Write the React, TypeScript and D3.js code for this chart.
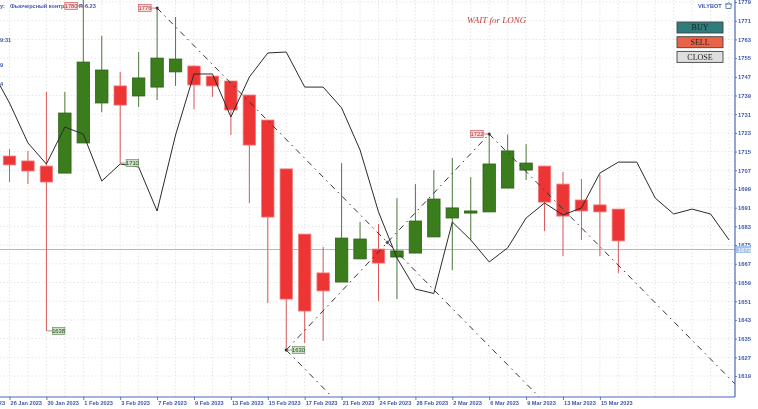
import React, { useEffect, useRef } from 'react';
import * as d3 from 'd3';

const axisDates = [
  '24 Jan 2023', '25 Jan 2023', '26 Jan 2023', '27 Jan 2023', '30 Jan 2023', '31 Jan 2023',
  '1 Feb 2023', '2 Feb 2023', '3 Feb 2023', '6 Feb 2023', '7 Feb 2023', '8 Feb 2023',
  '9 Feb 2023', '10 Feb 2023', '13 Feb 2023', '14 Feb 2023', '15 Feb 2023', '16 Feb 2023',
  '17 Feb 2023', '20 Feb 2023', '21 Feb 2023', '22 Feb 2023', '24 Feb 2023', '27 Feb 2023',
  '28 Feb 2023', '1 Mar 2023', '2 Mar 2023', '3 Mar 2023', '6 Mar 2023', '7 Mar 2023',
  '9 Mar 2023', '10 Mar 2023', '13 Mar 2023', '14 Mar 2023', '15 Mar 2023', '16 Mar 2023',
  '17 Mar 2023', '20 Mar 2023', '21 Mar 2023', '22 Mar 2023', '23 Mar 2023', '24 Mar 2023',
  '27 Mar 2023',
];
const candleDates = axisDates.slice(2, 36);
const lineDates = axisDates.slice(1, 42);
const labelledDates = axisDates.slice(0, 35).filter((_, i) => i % 2 === 0);

const opens = [
  1713.1, 1711.0, 1708.8, 1705.8, 1718.7, 1735.8, 1743.1, 1738.8, 1742.6, 1749.1, 1751.6, 1747.3,
  1745.2, 1739.2, 1728.5, 1707.6, 1679.7, 1663.1, 1659.2, 1669.1, 1673.3, 1669.9, 1671.6, 1678.5,
  1686.6, 1688.7, 1689.2, 1699.4, 1707.1, 1708.8, 1701.1, 1694.3, 1692.2, 1690.4,
];
const highs = [
  1716.1, 1715.3, 1740.5, 1740.5, 1780.0, 1764.5, 1749.1, 1757.6, 1776.4, 1772.6, 1752.0, 1747.3,
  1745.2, 1739.2, 1728.5, 1707.6, 1679.7, 1674.2, 1710.1, 1684.9, 1684.0, 1695.1, 1701.1, 1707.1,
  1712.3, 1704.1, 1722.5, 1722.3, 1718.2, 1708.8, 1706.3, 1703.3, 1705.0, 1690.4,
];
const lows = [
  1702.0, 1701.1, 1638.3, 1705.8, 1718.7, 1731.9, 1710.1, 1734.1, 1737.1, 1743.1, 1733.2, 1738.4,
  1722.1, 1693.0, 1650.2, 1630.1, 1633.1, 1634.0, 1659.2, 1669.1, 1651.1, 1651.9, 1671.6, 1678.5,
  1664.3, 1677.2, 1689.2, 1699.4, 1702.8, 1681.0, 1670.3, 1677.2, 1670.3, 1663.1,
];
const closes = [
  1709.3, 1706.7, 1702.0, 1731.5, 1753.3, 1749.9, 1734.9, 1746.5, 1755.0, 1754.6, 1743.5, 1743.1,
  1732.8, 1717.8, 1687.0, 1651.9, 1646.8, 1655.4, 1678.0, 1677.6, 1667.3, 1672.5, 1685.3, 1694.7,
  1690.9, 1689.6, 1709.7, 1715.3, 1710.1, 1693.4, 1687.4, 1689.6, 1689.2, 1676.8,
];
const lineValues = [
  1750.3, 1735.8, 1718.7, 1709.7, 1725.5, 1722.5, 1702.4, 1709.7, 1708.4, 1689.6, 1722.1, 1748.2,
  1748.2, 1729.8, 1746.9, 1757.2, 1757.6, 1742.6, 1742.6, 1733.7, 1715.7, 1689.2, 1669.5, 1656.2,
  1654.3, 1684.9, 1677.2, 1667.8, 1673.8, 1686.6, 1693.0, 1687.9, 1690.9, 1705.8, 1710.5, 1710.5,
  1695.1, 1688.3, 1690.4, 1688.3, 1677.2,
];
const priceTicks = [
  1779, 1771, 1763, 1755, 1747, 1739, 1731, 1723, 1715, 1707, 1699, 1691, 1683, 1675, 1667, 1659,
  1651, 1643, 1635, 1627, 1619,
];
const currentPrice = 1673.1;

type TrendLine = [string, number, string, number];
const trendLines: TrendLine[] = [
  ['7 Feb 2023', 1776.4, '10 Mar 2023', 1607.7],
  ['16 Feb 2023', 1630.1, '6 Mar 2023', 1722.5],
  ['6 Mar 2023', 1722.5, '27 Mar 2023', 1610.2],
  ['16 Feb 2023', 1630.1, '21 Feb 2023', 1605.9],
];

const redLabels: [string, number, string][] = [
  ['1 Feb 2023', 1780, '1780'],
  ['7 Feb 2023', 1776.4, '1776'],
  ['6 Mar 2023', 1722.5, '1722'],
];
const greenLabels: [string, number, string][] = [
  ['3 Feb 2023', 1710.1, '1710'],
  ['30 Jan 2023', 1638.3, '1638'],
  ['16 Feb 2023', 1630.1, '1630'],
];

const buttons = ['BUY', 'SELL', 'CLOSE'];
const buttonFills = ['#2f7d7c', '#e9644a', '#dedede'];

export default function App() {
  const svgRef = useRef<SVGSVGElement>(null);

  useEffect(() => {
    if (!svgRef.current) return;
    const svg = d3.select(svgRef.current);
    svg.selectAll('*').remove();

    const plotRight = 735;
    const plotBottom = 397;
    const blue = '#3f58ad';

    const x = d3.scalePoint<string>().domain(axisDates).range([-27.4, 747.5]);
    const y = d3.scaleLinear().domain([1619, 1779]).range([376, 2]);
    const xd = (d: string) => x(d) || 0;

    const defs = svg.append('defs');
    defs.append('clipPath').attr('id', 'plot')
      .append('rect').attr('width', plotRight).attr('height', plotBottom);
    defs.append('filter').attr('id', 'soft')
      .attr('x', 0).attr('y', 0).attr('width', 1).attr('height', 1)
      .attr('filterUnits', 'objectBoundingBox')
      .append('feGaussianBlur').attr('stdDeviation', 0.45);

    svg.append('rect').attr('width', 758).attr('height', 409).attr('fill', '#fff');
    const root = svg.append('g').attr('filter', 'url(#soft)');
    root.append('rect').attr('width', 758).attr('height', 409).attr('fill', '#fff');

    const plot = root.append('g').attr('clip-path', 'url(#plot)');

    // Grid
    plot.selectAll('.gx').data(axisDates).enter().append('line')
      .attr('x1', xd).attr('x2', xd).attr('y1', 0).attr('y2', plotBottom)
      .attr('stroke', '#e0e0e0').attr('stroke-width', 0.8).attr('stroke-dasharray', '1.5 2');
    plot.selectAll('.gy').data(priceTicks).enter().append('line')
      .attr('x1', 0).attr('x2', plotRight).attr('y1', d => y(d)).attr('y2', d => y(d))
      .attr('stroke', '#e0e0e0').attr('stroke-width', 0.8).attr('stroke-dasharray', '1.5 2');

    // Current price
    plot.append('line')
      .attr('x1', 0).attr('x2', plotRight).attr('y1', y(currentPrice)).attr('y2', y(currentPrice))
      .attr('stroke', '#9dbce4').attr('stroke-width', 1);

    // Top-left caption sits under the labels and candles
    const caption = root.append('g').attr('fill', blue)
      .attr('font-family', 'Liberation Sans').attr('font-size', 5.6).attr('font-weight', 'bold');
    caption.append('text').attr('x', 0).attr('y', 7.5).text('y:');
    caption.append('text').attr('x', 10).attr('y', 7.5).text('Фьючерсный контракт');
    caption.append('text').attr('x', 79).attr('y', 7.5).text('R-6.23');
    caption.append('text').attr('x', 0).attr('y', 41.5).text('9:31');
    caption.append('text').attr('x', 0).attr('y', 67).text('9');
    caption.append('text').attr('x', 0).attr('y', 86).text('4');

    // Candles
    const candles = candleDates.map((date, i) => ({
      date,
      open: opens[i],
      high: highs[i],
      low: lows[i],
      close: closes[i],
      up: closes[i] > opens[i],
    }));

    plot.selectAll('.wick').data(candles).enter().append('line')
      .attr('x1', d => xd(d.date)).attr('x2', d => xd(d.date))
      .attr('y1', d => y(d.high)).attr('y2', d => y(d.low))
      .attr('stroke', d => (d.up ? '#4f7a3c' : '#d9585a')).attr('stroke-width', 1);

    plot.selectAll('.body').data(candles).enter().append('rect')
      .attr('x', d => xd(d.date) - 6.2)
      .attr('width', 12.4)
      .attr('y', d => y(Math.max(d.open, d.close)))
      .attr('height', d => Math.abs(y(d.open) - y(d.close)))
      .attr('fill', d => (d.up ? '#3a7d1f' : '#ee3434'))
      .attr('stroke', d => (d.up ? '#2c5f17' : '#f37a78'))
      .attr('stroke-width', 0.8);

    // Black line
    const line = d3.line<number>()
      .x((_d, i) => xd(lineDates[i]))
      .y(d => y(d));
    plot.append('path').datum(lineValues)
      .attr('d', line)
      .attr('fill', 'none').attr('stroke', '#2b2b2b').attr('stroke-width', 1);

    // Trend lines
    plot.selectAll('.trend').data(trendLines).enter().append('line')
      .attr('x1', d => xd(d[0])).attr('y1', d => y(d[1]))
      .attr('x2', d => xd(d[2])).attr('y2', d => y(d[3]))
      .attr('stroke', '#333').attr('stroke-width', 1).attr('stroke-dasharray', '6 4.5 1.5 4.5');

    // Pivot dots, the middle one where the first two trend lines cross
    const [a, b] = trendLines;
    const m1 = (y(a[3]) - y(a[1])) / (xd(a[2]) - xd(a[0]));
    const m2 = (y(b[3]) - y(b[1])) / (xd(b[2]) - xd(b[0]));
    const crossX = (y(b[1]) - y(a[1]) + m1 * xd(a[0]) - m2 * xd(b[0])) / (m1 - m2);
    const crossY = y(a[1]) + m1 * (crossX - xd(a[0]));
    root.append('circle').attr('cx', crossX).attr('cy', crossY).attr('r', 1.6)
      .attr('fill', '#445').attr('stroke', '#99a').attr('stroke-width', 0.5);
    root.selectAll('.pivot').data(trendLines.slice(0, 3)).enter().append('circle')
      .attr('cx', d => xd(d[0])).attr('cy', d => y(d[1])).attr('r', 1.5).attr('fill', '#223');

    // Price labels
    const drawLabels = (items: [string, number, string][], side: number, fill: string, edge: string, ink: string) => {
      const g = root.selectAll(null).data(items).enter().append('g')
        .attr('transform', d => `translate(${xd(d[0])},${Math.max(y(d[1]), 6)})`);
      g.append('line').attr('x1', 0).attr('x2', side * 6).attr('stroke', edge).attr('stroke-width', 0.8);
      g.append('rect')
        .attr('x', side > 0 ? 6 : -18.5).attr('y', -3.5).attr('width', 12.5).attr('height', 7)
        .attr('fill', fill).attr('stroke', edge).attr('stroke-width', 0.7);
      g.append('text')
        .attr('x', side > 0 ? 12.2 : -12.2).attr('y', 2.1).attr('text-anchor', 'middle')
        .attr('font-family', 'Liberation Sans').attr('font-size', 5.8).attr('fill', ink)
        .text(d => d[2]);
    };
    drawLabels(redLabels, -1, '#fbdcdc', '#d0585a', '#a33');
    drawLabels(greenLabels, 1, '#cfe0c6', '#6d9160', '#2c4a2c');

    // Axes
    const axisR = d3.axisRight(y).tickValues(priceTicks).tickFormat(d3.format('d') as any)
      .tickSize(2).tickSizeOuter(0).tickPadding(1);
    const rightG = root.append('g').attr('transform', `translate(${plotRight},0)`).call(axisR);
    const axisB = d3.axisBottom(x).tickValues(labelledDates).tickSize(3).tickSizeOuter(0).tickPadding(1);
    const bottomG = root.append('g').attr('transform', `translate(0,${plotBottom})`).call(axisB);
    [rightG, bottomG].forEach(g => {
      g.selectAll('.tick line').attr('stroke', blue).attr('stroke-width', 0.8);
      g.selectAll('text').attr('fill', blue)
        .attr('font-family', 'Liberation Sans').attr('font-size', 5.8).attr('font-weight', 'bold');
    });
    bottomG.selectAll('text').attr('text-anchor', 'start').attr('dx', '0.1em').attr('font-size', 5.6);
    root.append('line').attr('x1', 0).attr('x2', plotRight).attr('y1', plotBottom).attr('y2', plotBottom)
      .attr('stroke', '#4b68b8').attr('stroke-width', 1.2);
    root.append('line').attr('x1', plotRight).attr('x2', plotRight).attr('y1', 0).attr('y2', plotBottom)
      .attr('stroke', '#4b68b8').attr('stroke-width', 1.2);
    rightG.select('.domain').remove();
    bottomG.select('.domain').remove();

    // Current price tag on the axis
    root.append('rect')
      .attr('x', plotRight + 1).attr('y', y(currentPrice) - 3.5).attr('width', 15).attr('height', 7)
      .attr('fill', '#a9c4e6');
    root.append('text')
      .attr('x', plotRight + 3).attr('y', y(currentPrice) + 2.1)
      .attr('font-family', 'Liberation Sans').attr('font-size', 5.8).attr('fill', '#fff')
      .text(String(Math.round(currentPrice)));

    // Signal text
    root.append('text')
      .attr('x', 467).attr('y', 23)
      .attr('font-family', 'Liberation Serif').attr('font-style', 'italic').attr('font-size', 9)
      .attr('fill', '#c8393b').text('WAIT for LONG');

    // Bot name
    root.append('text')
      .attr('x', 698).attr('y', 7.5)
      .attr('font-family', 'Liberation Sans').attr('font-size', 5.6).attr('font-weight', 'bold')
      .attr('fill', blue).text('VILYBOT');
    root.append('path')
      .attr('d', 'M725 5.5 L728.5 2.5 L732 5.5 M726 5.5 V8.5 H731 V5.5 M725 4 H732')
      .attr('fill', 'none').attr('stroke', '#4a6a96').attr('stroke-width', 0.8);

    // Buttons
    const btn = root.selectAll('.btn').data(buttons).enter().append('g')
      .attr('transform', (_d, i) => `translate(677,${22 + i * 14.7})`);
    btn.append('rect').attr('width', 46).attr('height', 11)
      .attr('fill', (_d, i) => buttonFills[i])
      .attr('stroke', '#444').attr('stroke-width', 0.9);
    btn.append('text').attr('x', 23).attr('y', 8.3).attr('text-anchor', 'middle')
      .attr('font-family', 'Liberation Serif').attr('font-size', 8)
      .attr('fill', '#222').text(d => d);
  }, []);

  return (
    <svg
      ref={svgRef}
      width={758}
      height={409}
      style={{ position: 'absolute', left: 0, top: 0 }}
    />
  );
}
